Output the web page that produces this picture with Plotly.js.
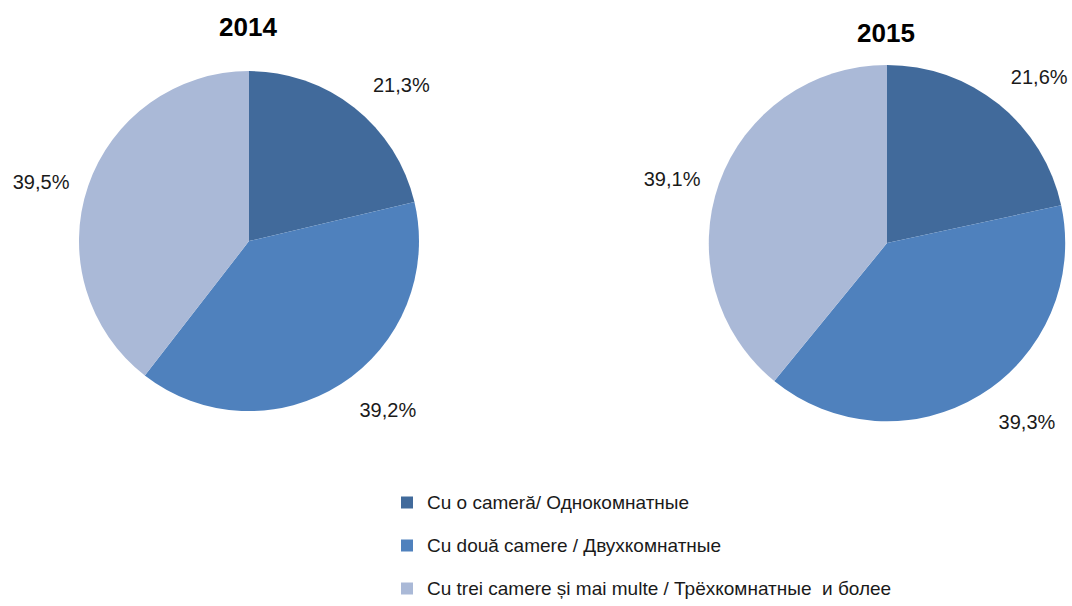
<!DOCTYPE html>
<html>
<head>
<meta charset="utf-8">
<script src="https://cdn.plot.ly/plotly-3.0.1.min.js"></script>
<style>html,body{margin:0;padding:0;background:#fff;}#chart{width:1072px;height:606px;}</style>
</head>
<body>
<div id="chart"></div>
<script>
const categories = [
  "Cu o cameră/ Однокомнатные",
  "Cu două camere / Двухкомнатные",
  "Cu trei camere și mai multe / Трёхкомнатные  и более"
];
const years = ["2014", "2015"];
const values2014 = [21.3, 39.2, 39.5];
const values2015 = [21.6, 39.3, 39.1];
const colors = ["#416A9B", "#4F81BD", "#AAB9D7"];

const FONT = "Liberation Sans, Arial, sans-serif";
// blank first line + text line (symbol aligned to the bottom line) to get wider row spacing
const legendLabels = categories.map(c => '&nbsp;<br><span style="font-size:19px">' + c + '</span>');

const T3 = "&nbsp;<br>%{value:.1f}%<br>&nbsp;";   // label padded to sit further from the pie
const T2 = "%{value:.1f}%<br>&nbsp;";

function pie(vals, dx, dy, templates) {
  return {
    type: "pie",
    labels: legendLabels,
    values: vals,
    sort: false,
    direction: "clockwise",
    rotation: 0,
    marker: {colors: colors, line: {width: 0}},
    textposition: "outside",
    texttemplate: templates,
    textfont: {family: FONT, size: 20, color: "#1a1a1a"},
    automargin: false,
    hoverinfo: "label+value",
    domain: {x: dx, y: dy}
  };
}

const data = [
  pie(values2014, [79/1072, 419/1072], [1 - 412/606, 1 - 71/606], [T3, T3, T3]),
  pie(values2015, [708/1072, 1066/1072], [1 - 422/606, 1 - 65/606], [T2, T3, T3])
];

const layout = {
  width: 1072, height: 606,
  margin: {l: 0, r: 0, t: 0, b: 0},
  paper_bgcolor: "#ffffff",
  separators: ",.",
  font: {family: FONT, color: "#1a1a1a"},
  showlegend: true,
  legend: {
    x: 387/1072, xanchor: "left",
    y: 1 - 467/606, yanchor: "top",
    valign: "bottom",
    font: {family: FONT, size: 15.385, color: "#1a1a1a"},
    bgcolor: "rgba(0,0,0,0)"
  },
  annotations: [
    {text: "<b>" + years[0] + "</b>", x: 248/1072, y: 1 - 27/606, xref: "paper", yref: "paper",
     xanchor: "center", yanchor: "middle",
     showarrow: false, font: {family: FONT, size: 26, color: "#000"}},
    {text: "<b>" + years[1] + "</b>", x: 886/1072, y: 1 - 33/606, xref: "paper", yref: "paper",
     xanchor: "center", yanchor: "middle",
     showarrow: false, font: {family: FONT, size: 26, color: "#000"}}
  ]
};

Plotly.newPlot("chart", data, layout, {displayModeBar: false, staticPlot: true});
</script>
</body>
</html>
